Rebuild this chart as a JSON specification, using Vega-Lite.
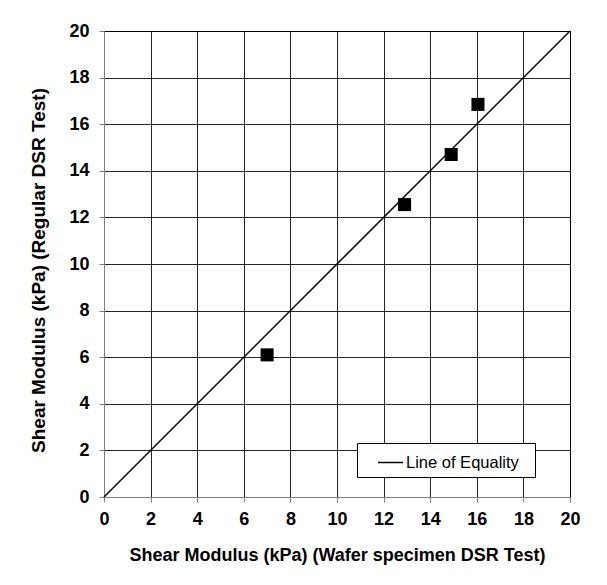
{
  "$schema": "https://vega.github.io/schema/vega-lite/v6.json",
  "width": 466,
  "height": 466,
  "autosize": {"type": "none"},
  "padding": {"left": 104, "top": 31, "right": 37, "bottom": 88},
  "background": "white",
  "config": {
    "font": "Liberation Sans",
    "view": {"stroke": "black", "strokeWidth": 1},
    "axis": {
      "labelFont": "Liberation Sans",
      "labelFontSize": 18,
      "labelFontWeight": "bold",
      "labelColor": "black",
      "labelFlush": false,
      "labelOverlap": false,
      "titleFont": "Liberation Sans",
      "titleFontSize": 18,
      "titleFontWeight": "bold",
      "titleColor": "black",
      "gridColor": "black",
      "gridOpacity": 0.85,
      "gridWidth": 1,
      "domainColor": "#808080",
      "tickColor": "#808080",
      "tickSize": 5
    }
  },
  "datasets": {
    "measured": [
      {"wafer": 7.0, "regular": 6.1},
      {"wafer": 12.9, "regular": 12.55},
      {"wafer": 14.9, "regular": 14.7},
      {"wafer": 16.05, "regular": 16.85}
    ],
    "equality": [
      {"wafer": 0, "regular": 0, "series": "Line of Equality"},
      {"wafer": 20, "regular": 20, "series": "Line of Equality"}
    ]
  },
  "layer": [
    {
      "data": {"name": "equality"},
      "mark": {"type": "line", "strokeWidth": 1.5},
      "encoding": {
        "x": {
          "field": "wafer",
          "type": "quantitative",
          "scale": {"domain": [0, 20], "nice": false},
          "axis": {"values": [0, 2, 4, 6, 8, 10, 12, 14, 16, 18, 20], "title": "Shear  Modulus (kPa) (Wafer specimen DSR Test)", "labelPadding": 8, "titlePadding": 18}
        },
        "y": {
          "field": "regular",
          "type": "quantitative",
          "scale": {"domain": [0, 20], "nice": false},
          "axis": {"values": [0, 2, 4, 6, 8, 10, 12, 14, 16, 18, 20], "title": "Shear Modulus (kPa) (Regular DSR Test)", "labelPadding": 10, "titlePadding": 20, "titleFontSize": 19, "titleY": 239}
        },
        "color": {
          "field": "series",
          "type": "nominal",
          "scale": {"range": ["black"]},
          "legend": {
            "title": "\u00a0",
            "titleOrient": "right",
            "titlePadding": 10,
            "titleFontSize": 16,
            "orient": "none",
            "legendX": 253,
            "legendY": 412,
            "direction": "vertical",
            "symbolType": "stroke",
            "symbolSize": 625,
            "symbolStrokeWidth": 1.5,
            "symbolStrokeColor": "black",
            "symbolOffset": 14,
            "labelOffset": 2,
            "labelFont": "Liberation Sans",
            "labelFontSize": 16.5,
            "labelColor": "black",
            "padding": 6,
            "strokeColor": "black",
            "fillColor": "white"
          }
        }
      }
    },
    {
      "data": {"name": "measured"},
      "mark": {"type": "point", "shape": "square", "filled": true, "color": "black", "opacity": 1, "size": 170},
      "encoding": {
        "x": {"field": "wafer", "type": "quantitative"},
        "y": {"field": "regular", "type": "quantitative"}
      }
    }
  ]
}
